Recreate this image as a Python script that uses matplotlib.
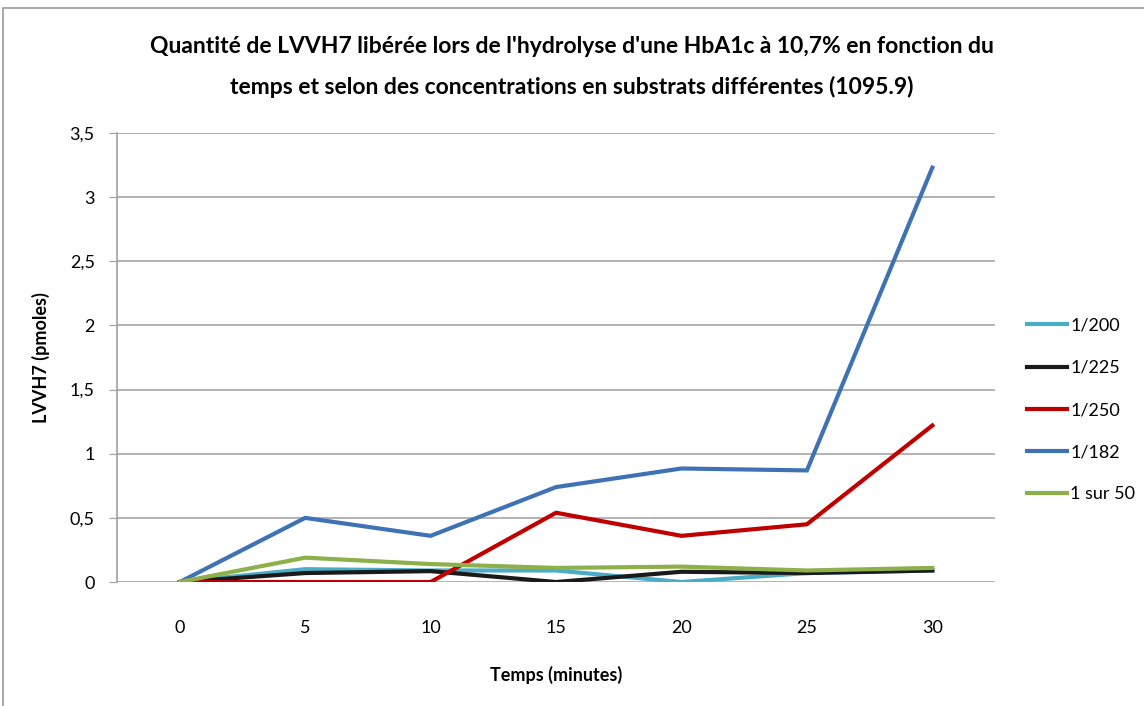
import matplotlib
matplotlib.use("Agg")
import matplotlib.pyplot as plt
from matplotlib.patches import Rectangle

temps = [0, 5, 10, 15, 20, 25, 30]
s_200 = [0, 0.10, 0.09, 0.09, 0.0, 0.07, 0.09]
s_225 = [0, 0.07, 0.085, 0.0, 0.08, 0.07, 0.09]
s_250 = [0, 0.0, 0.0, 0.54, 0.36, 0.45, 1.22]
s_182 = [0, 0.50, 0.36, 0.74, 0.885, 0.87, 3.23]
s_50 = [0, 0.19, 0.14, 0.11, 0.12, 0.09, 0.11]

labels = ["1/200", "1/225", "1/250", "1/182", "1 sur 50"]
colors = ["#4BACC6", "#1a1a1a", "#C00000", "#3F72B5", "#8DB04B"]
y_ticks = [0, 0.5, 1, 1.5, 2, 2.5, 3, 3.5]
y_ticklabels = ["0", "0,5", "1", "1,5", "2", "2,5", "3", "3,5"]

plt.rcParams["font.family"] = ["Lato", "DejaVu Sans"]

fig = plt.figure(figsize=(11.44, 7.06), dpi=100)
ax = fig.add_axes([0.1023, 0.1756, 0.7675, 0.636])

# chart border
fig.patches.append(Rectangle((3 / 1144, -0.1), 1.2, (706 - 8) / 706 + 0.1,
                             transform=fig.transFigure, fill=False,
                             edgecolor="#9a9a9a", linewidth=1.2))

for vals, lab, col in zip([s_200, s_225, s_250, s_182, s_50], labels, colors):
    ax.plot(temps, vals, color=col, linewidth=3, label=lab, solid_joinstyle="miter")

ax.set_xlim(-2.5, 32.5)
ax.set_ylim(0, 3.5)
ax.set_xticks(temps)
ax.set_xticklabels([str(t) for t in temps], fontsize=13)
ax.set_yticks(y_ticks)
ax.set_yticklabels(y_ticklabels, fontsize=13)
ax.tick_params(axis="x", length=0, pad=27)
ax.tick_params(axis="y", length=6, color="#a0a0a0", pad=10)
ax.yaxis.grid(True, color="#a6a6a6", linewidth=1.2)
ax.set_axisbelow(True)
for side in ["top", "right", "bottom"]:
    ax.spines[side].set_visible(False)
ax.spines["left"].set_color("#a0a0a0")
ax.spines["left"].set_linewidth(1.2)

ax.set_xlabel("Temps (minutes)", fontsize=13, fontweight="bold", labelpad=22)
ax.set_ylabel("LVVH7 (pmoles)", fontsize=13, fontweight="bold", labelpad=14)

fig.text(0.5, 0.934, "Quantité de LVVH7 libérée lors de l'hydrolyse d'une HbA1c à 10,7% en fonction du",
         ha="center", va="center", fontsize=16.5, fontweight="bold")
fig.text(0.5, 0.877, "temps et selon des concentrations en substrats différentes (1095.9)",
         ha="center", va="center", fontsize=16.5, fontweight="bold")

ax.legend(loc="center left", bbox_to_anchor=(1.018, 0.383), frameon=False, fontsize=13,
          handlelength=2.2, handletextpad=0.2, labelspacing=1.45)

fig.savefig("out.png", dpi=100)
